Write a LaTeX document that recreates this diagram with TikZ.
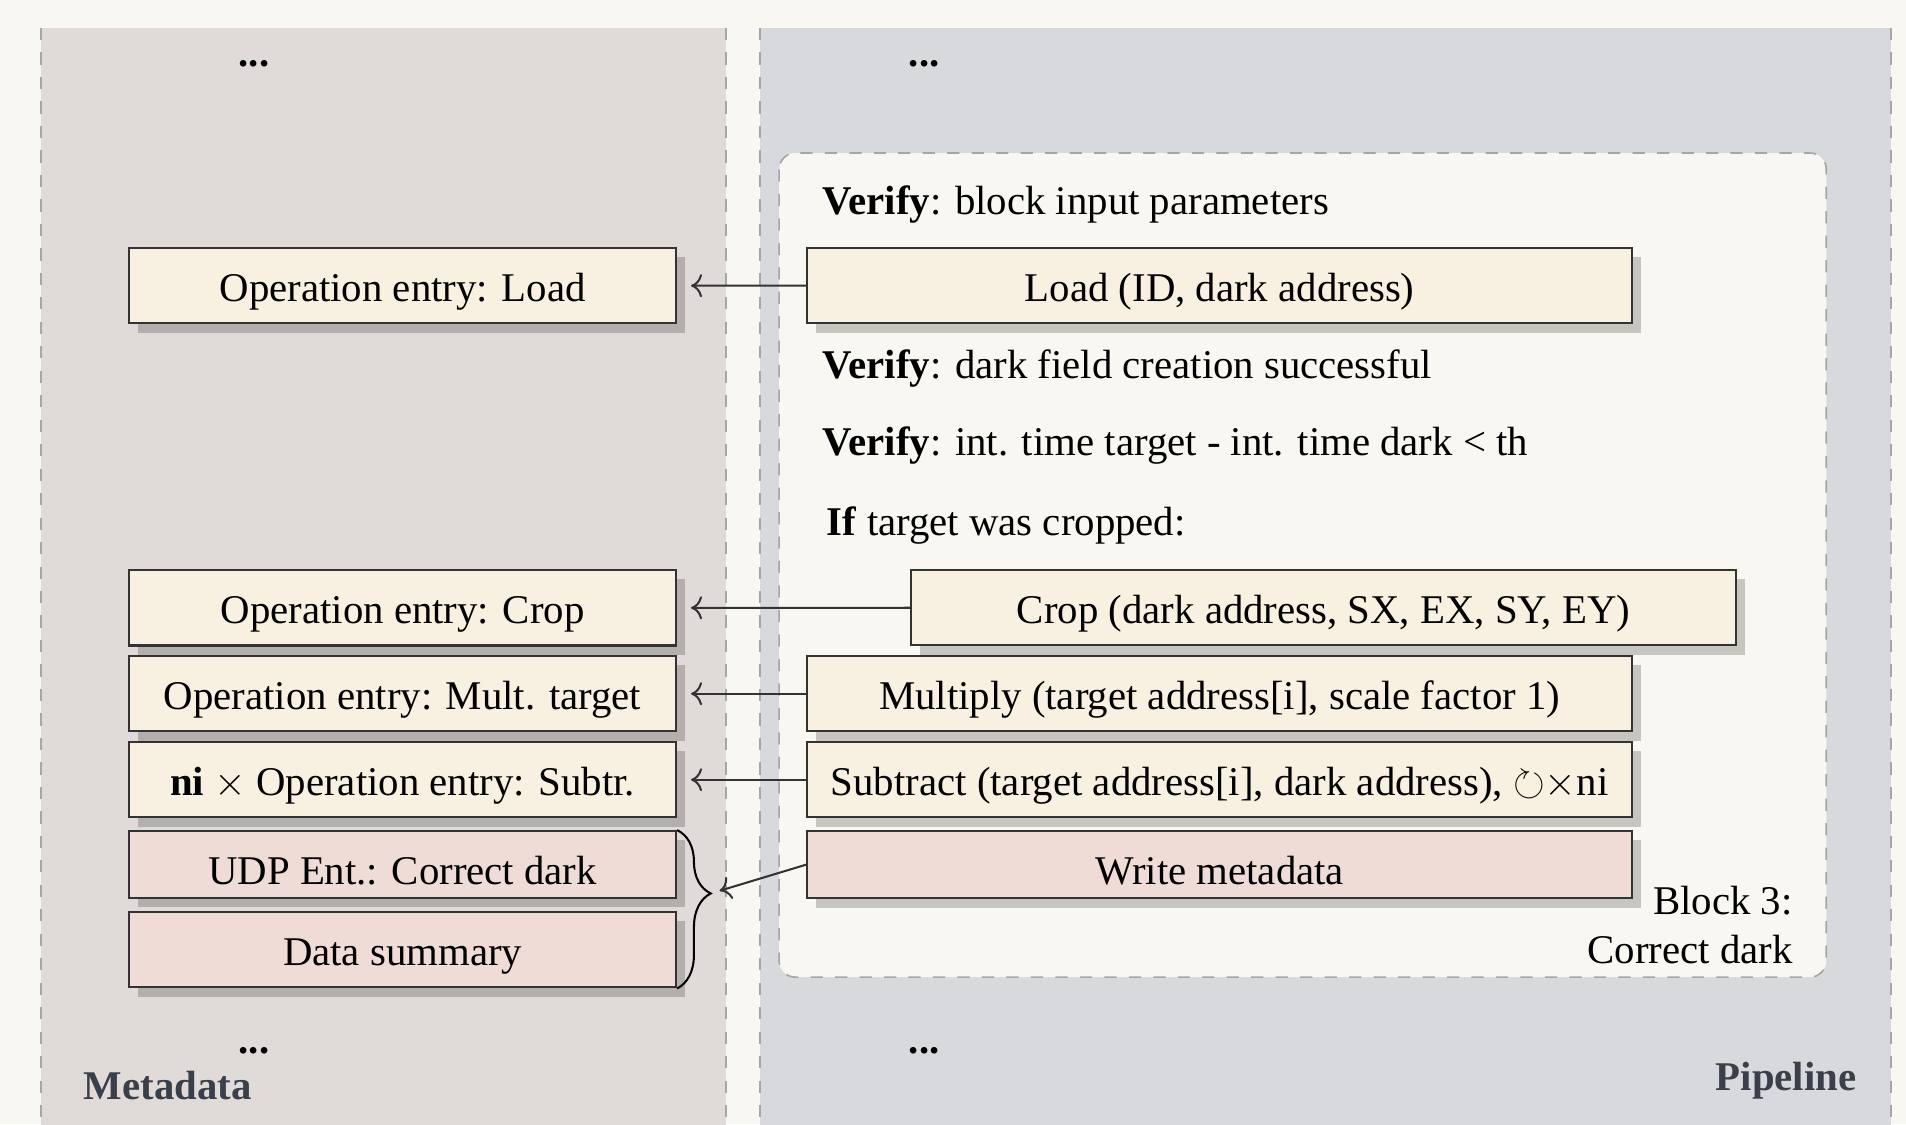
\documentclass[tikz,border=0pt]{standalone}
\usepackage{amsmath,amssymb}
\usepackage{fontspec}
\setmainfont{Liberation Serif}
\usepackage{xcolor}
\usepackage{tikz}
\usetikzlibrary{arrows.meta,calc,shadows,decorations.pathreplacing}
\definecolor{bgc}{RGB}{248,247,241}
\definecolor{metac}{RGB}{224,219,217}
\definecolor{pipec}{RGB}{216,217,220}
\definecolor{opc}{RGB}{248,240,224}
\definecolor{udpc}{RGB}{240,220,214}
\definecolor{labc}{RGB}{58,63,74}
\tikzset{
  entry/.style={rectangle,draw=black!80,line width=0.5pt,fill=opc,minimum width=4.713cm,anchor=north,
                text height=9.7pt,inner xsep=0pt,inner ysep=3.3pt,
                drop shadow={shadow xshift=0.08cm,shadow yshift=-0.08cm,opacity=0.2,fill=black}},
  op/.style   ={entry,minimum width=7.108cm},
  pk/.style   ={fill=udpc},
  txt/.style  ={inner sep=0pt,anchor=base west},
  dots/.style ={font=\bfseries,inner sep=0pt},
  lane/.style ={font=\bfseries,text=labc,inner sep=0pt},
  side/.style ={gray!70,dashed},
  ar/.style   ={->,black!80,line width=0.5pt,shorten >=0.12cm},
}

\begin{document}
\begin{tikzpicture}
  \path[use as bounding box,fill=bgc] (0,0) rectangle (16.42,-9.685);
  \clip (0,0) rectangle (16.42,-9.685);
  % lanes
  \fill[metac] (0.353,-0.241) rectangle (6.255,-9.9);
  \fill[pipec] (6.548,-0.241) rectangle (16.293,-9.9);
  \draw[side] (0.353,-0.241) -- (0.353,-9.9) (6.255,-0.241) -- (6.255,-9.9);
  \draw[side] (6.548,-0.241) -- (6.548,-9.9) (16.293,-0.241) -- (16.293,-9.9);
  % block 3
  \draw[side,fill=bgc,rounded corners=4pt] (6.712,-1.318) rectangle (15.733,-8.418);

  \node[dots] (mTop) at (2.188,-0.553) {...};
  \node[dots] (pTop) at (7.961,-0.553) {...};
  \node[dots] (mBot) at (2.188,-9.05) {...};
  \node[dots] (pBot) at (7.961,-9.05) {...};

  % metadata entries
  \node[entry] (eLoad) at (3.468,-2.128) {Operation entry: Load};
  \node[entry] (eCrop) at (3.468,-4.903) {Operation entry: Crop};
  \node[entry] (eMult) at (3.468,-5.643) {Operation entry: Mult. target};
  \node[entry] (eSub)  at (3.468,-6.384) {\textbf{ni} $\times$ Operation entry: Subtr.};
  \node[entry,pk] (eUdp) at (3.468,-7.151) {UDP Ent.: Correct dark};
  \node[entry,pk] (eSum) at (3.468,-7.849) {Data summary};

  % pipeline steps
  \node[txt] (v1) at (7.082,-1.852) {\textbf{Verify}: block input parameters};
  \node[op] (oLoad) at (10.507,-2.128) {Load (ID, dark address)};
  \node[txt] (v2) at (7.082,-3.257) {\textbf{Verify}: dark field creation successful};
  \node[txt] (v3) at (7.082,-3.920) {\textbf{Verify}: int. time target - int. time dark < th};
  \node[txt] (c1) at (7.117,-4.610) {\textbf{If} target was cropped:};
  \node[op] (oCrop) at (11.403,-4.903) {Crop (dark address, SX, EX, SY, EY)};
  \node[op] (oMult) at (10.507,-5.643) {Multiply (target address[i], scale factor 1)};
  \node[op] (oSub)  at (10.507,-6.384) {Subtract (target address[i], dark address), ${\circlearrowright}{\times}$ni};
  \node[op,pk] (oWrite) at (10.507,-7.151) {Write metadata};
  \node[align=right,anchor=east,inner sep=0pt] (blk) at (15.449,-7.97) {Block 3:\\Correct dark};

  \node[lane,anchor=base west] (lMeta) at (0.715,-9.469) {Metadata};
  \node[lane,anchor=base east] (lPipe) at (16.0,-9.391) {Pipeline};

  % links
  \foreach \s/\t in {oLoad/eLoad,oCrop/eCrop,oMult/eMult,oSub/eSub}
    \draw[ar] (\s.west) -- (\t.east);
  \draw[decorate,decoration={brace,amplitude=0.29cm,aspect=0.4},line width=0.5pt] (eUdp.north east) -- (eSum.south east);
  \coordinate (tip) at ($(eUdp.north east)!0.4!(eSum.south east)+(0.29,0)$);
  \draw[ar,shorten >=0.08cm] (oWrite.west) -- (tip);
\end{tikzpicture}
\end{document}
